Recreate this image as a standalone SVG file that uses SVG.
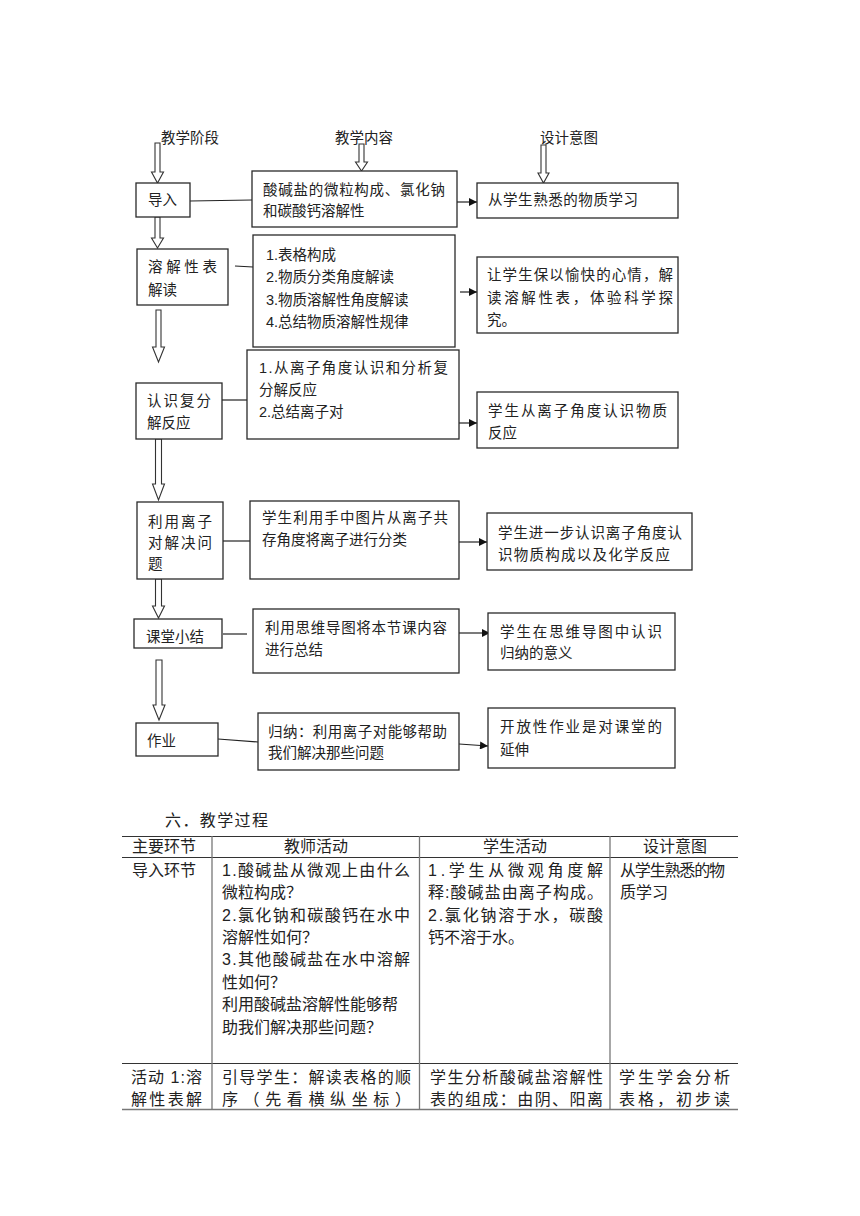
<svg xmlns="http://www.w3.org/2000/svg" width="860" height="1216" viewBox="0 0 860 1216">
<style>
  .bg{fill:#fff}
  .box{fill:#fff;stroke:#2a2a2a;stroke-width:1.3}
  .t{font-family:"Liberation Sans","Noto Sans CJK SC",sans-serif;font-size:14.5px;fill:#222}
  .tt{font-family:"Liberation Sans","Noto Sans CJK SC",sans-serif;font-size:16px;fill:#222}
  .blk{fill:#fff;stroke:#333;stroke-width:1.1}
  .ln{stroke:#222;stroke-width:1.2;fill:none}
  .grid{stroke:#333;stroke-width:1.1}
  .vgrid{stroke:#777;stroke-width:1.3}
</style>
<defs>
  <marker id="ah" viewBox="0 0 10 10" refX="10" refY="5" markerWidth="9" markerHeight="8" markerUnits="userSpaceOnUse" orient="auto">
    <path d="M0,0 L10,5 L0,10 Z" fill="#111"/>
  </marker>
</defs>
<rect class="bg" width="860" height="1216"/>

<!-- column headings -->
<g id="headings">
  <text class="t" x="161" y="143">教学阶段</text>
  <text class="t" x="335" y="143">教学内容</text>
  <text class="t" x="540" y="143">设计意图</text>
</g>

<!-- connectors -->
<g id="connectors">
  <!-- hollow block arrows -->
  <path class="blk" d="M155,143 L160,143 L160,172 L163.5,172 L157.5,183 L151.5,172 L155,172 Z"/>
  <path class="blk" d="M359,144 L364,144 L364,162 L367.5,162 L361.5,171 L355.5,162 L359,162 Z"/>
  <path class="blk" d="M541,145 L546,145 L546,173 L549,173 L543.5,183 L538,173 L541,173 Z"/>
  <path class="blk" d="M155,217 L160,217 L160,238 L163.5,238 L157.5,248 L151.5,238 L155,238 Z"/>
  <path class="blk" d="M156,310 L161,310 L161,347 L164.5,347 L158.5,362 L152.5,347 L156,347 Z"/>
  <path class="blk" d="M155.5,439 L161.5,439 L161.5,484 L164.5,484 L158.5,500 L152.5,484 L155.5,484 Z"/>
  <path class="blk" d="M155.5,579 L161.5,579 L161.5,606 L164.5,606 L158.5,618 L152.5,606 L155.5,606 Z"/>
  <path class="blk" d="M156,660 L162,660 L162,705 L165,705 L159,720 L153,705 L156,705 Z"/>
  <!-- stage to content links -->
  <line class="ln" x1="190" y1="201" x2="252" y2="200"/>
  <line class="ln" x1="235" y1="266" x2="253" y2="267"/>
  <line class="ln" x1="222" y1="400" x2="247" y2="400"/>
  <line class="ln" x1="222" y1="541" x2="250" y2="541"/>
  <line class="ln" x1="223" y1="634" x2="247" y2="634"/>
  <line class="ln" x1="218" y1="739" x2="258" y2="742"/>
  <!-- content to intent arrows -->
  <line class="ln" x1="457" y1="202" x2="477" y2="202" marker-end="url(#ah)"/>
  <line class="ln" x1="460" y1="292" x2="477" y2="292" marker-end="url(#ah)"/>
  <line class="ln" x1="459" y1="423" x2="477" y2="423" marker-end="url(#ah)"/>
  <line class="ln" x1="459" y1="542" x2="487" y2="542" marker-end="url(#ah)"/>
  <line class="ln" x1="459" y1="633" x2="490" y2="633" marker-end="url(#ah)"/>
  <line class="ln" x1="459" y1="744" x2="488" y2="746" marker-end="url(#ah)"/>
</g>

<!-- stage nodes -->
<g id="s-intro">
  <rect class="box" x="136" y="183" width="54" height="34"/>
  <text class="t" x="148" y="205">导入</text>
</g>
<g id="s-table">
  <rect class="box" x="137" y="249" width="91" height="56"/>
  <text class="t" x="148" y="272" textLength="69" lengthAdjust="spacing">溶解性表</text>
  <text class="t" x="148" y="295">解读</text>
</g>
<g id="s-reaction">
  <rect class="box" x="136" y="383" width="86" height="56"/>
  <text class="t" x="147" y="406" textLength="64" lengthAdjust="spacing">认识复分</text>
  <text class="t" x="147" y="428">解反应</text>
</g>
<g id="s-ionpair">
  <rect class="box" x="137" y="502" width="86" height="77"/>
  <text class="t" x="148" y="527" textLength="64" lengthAdjust="spacing">利用离子</text>
  <text class="t" x="148" y="548" textLength="64" lengthAdjust="spacing">对解决问</text>
  <text class="t" x="148" y="569">题</text>
</g>
<g id="s-summary">
  <rect class="box" x="134" y="619" width="88" height="29"/>
  <text class="t" x="146" y="642">课堂小结</text>
</g>
<g id="s-homework">
  <rect class="box" x="136" y="723" width="82" height="33"/>
  <text class="t" x="147" y="746">作业</text>
</g>

<!-- content nodes -->
<g id="c-intro">
  <rect class="box" x="252" y="171" width="205" height="56"/>
  <text class="t" x="263" y="195" textLength="182" lengthAdjust="spacing">酸碱盐的微粒构成、氯化钠</text>
  <text class="t" x="263" y="216">和碳酸钙溶解性</text>
</g>
<g id="c-table">
  <rect class="box" x="253" y="235" width="202" height="112"/>
  <text class="t" x="266" y="260">1.表格构成</text>
  <text class="t" x="266" y="282">2.物质分类角度解读</text>
  <text class="t" x="266" y="305">3.物质溶解性角度解读</text>
  <text class="t" x="266" y="327">4.总结物质溶解性规律</text>
</g>
<g id="c-reaction">
  <rect class="box" x="247" y="350" width="212" height="89"/>
  <text class="t" x="259" y="373" textLength="189" lengthAdjust="spacing">1.从离子角度认识和分析复</text>
  <text class="t" x="259" y="395">分解反应</text>
  <text class="t" x="259" y="417">2.总结离子对</text>
</g>
<g id="c-ionpair">
  <rect class="box" x="250" y="501" width="209" height="78"/>
  <text class="t" x="262" y="523" textLength="186" lengthAdjust="spacing">学生利用手中图片从离子共</text>
  <text class="t" x="262" y="545">存角度将离子进行分类</text>
</g>
<g id="c-summary">
  <rect class="box" x="253" y="609" width="206" height="64"/>
  <text class="t" x="265" y="633" textLength="182" lengthAdjust="spacing">利用思维导图将本节课内容</text>
  <text class="t" x="265" y="655">进行总结</text>
</g>
<g id="c-homework">
  <rect class="box" x="258" y="713" width="201" height="57"/>
  <text class="t" x="268" y="737" textLength="179" lengthAdjust="spacing">归纳：利用离子对能够帮助</text>
  <text class="t" x="268" y="758">我们解决那些问题</text>
</g>

<!-- intent nodes -->
<g id="i-intro">
  <rect class="box" x="477" y="183" width="201" height="35"/>
  <text class="t" x="488" y="205" textLength="150" lengthAdjust="spacing">从学生熟悉的物质学习</text>
</g>
<g id="i-table">
  <rect class="box" x="477" y="257" width="201" height="76"/>
  <text class="t" x="487" y="280" textLength="186" lengthAdjust="spacing">让学生保以愉快的心情，解</text>
  <text class="t" x="487" y="303" textLength="186" lengthAdjust="spacing">读溶解性表，体验科学探</text>
  <text class="t" x="487" y="325">究。</text>
</g>
<g id="i-reaction">
  <rect class="box" x="477" y="392" width="201" height="56"/>
  <text class="t" x="488" y="416" textLength="179" lengthAdjust="spacing">学生从离子角度认识物质</text>
  <text class="t" x="488" y="438">反应</text>
</g>
<g id="i-ionpair">
  <rect class="box" x="487" y="513" width="205" height="57"/>
  <text class="t" x="498" y="538" textLength="184" lengthAdjust="spacing">学生进一步认识离子角度认</text>
  <text class="t" x="498" y="560" textLength="172" lengthAdjust="spacing">识物质构成以及化学反应</text>
</g>
<g id="i-summary">
  <rect class="box" x="488" y="613" width="187" height="57"/>
  <text class="t" x="500" y="637" textLength="162" lengthAdjust="spacing">学生在思维导图中认识</text>
  <text class="t" x="500" y="658">归纳的意义</text>
</g>
<g id="i-homework">
  <rect class="box" x="488" y="708" width="187" height="60"/>
  <text class="t" x="500" y="732" textLength="162" lengthAdjust="spacing">开放性作业是对课堂的</text>
  <text class="t" x="500" y="755">延伸</text>
</g>

<!-- section title and table -->
<g id="process-table">
  <text class="tt" x="165" y="826" textLength="103" lengthAdjust="spacing">六．教学过程</text>
  <line class="grid" x1="122" y1="836.5" x2="738" y2="836.5"/>
  <line class="grid" x1="122" y1="857.5" x2="738" y2="857.5"/>
  <line class="grid" x1="122" y1="1063.5" x2="738" y2="1063.5"/>
  <line class="vgrid" x1="122" y1="1109.5" x2="738" y2="1109.5"/>
  <line class="vgrid" x1="212" y1="836" x2="212" y2="1110"/>
  <line class="vgrid" x1="419.5" y1="836" x2="419.5" y2="1110"/>
  <line class="vgrid" x1="610" y1="836" x2="610" y2="1110"/>

  <text class="tt" x="132" y="852">主要环节</text>
  <text class="tt" x="316" y="852" text-anchor="middle">教师活动</text>
  <text class="tt" x="515" y="852" text-anchor="middle">学生活动</text>
  <text class="tt" x="675" y="852" text-anchor="middle">设计意图</text>

  <text class="tt" x="132" y="876">导入环节</text>
  <text class="tt" x="222" y="876" textLength="188" lengthAdjust="spacing">1.酸碱盐从微观上由什么</text>
  <text class="tt" x="222" y="898">微粒构成？</text>
  <text class="tt" x="222" y="921" textLength="188" lengthAdjust="spacing">2.氯化钠和碳酸钙在水中</text>
  <text class="tt" x="222" y="943">溶解性如何？</text>
  <text class="tt" x="222" y="965" textLength="188" lengthAdjust="spacing">3.其他酸碱盐在水中溶解</text>
  <text class="tt" x="222" y="988">性如何？</text>
  <text class="tt" x="222" y="1010" textLength="176" lengthAdjust="spacing">利用酸碱盐溶解性能够帮</text>
  <text class="tt" x="222" y="1033">助我们解决那些问题？</text>

  <text class="tt" x="428" y="876" textLength="175" lengthAdjust="spacing">1.学生从微观角度解</text>
  <text class="tt" x="428" y="898" textLength="175" lengthAdjust="spacing">释:酸碱盐由离子构成。</text>
  <text class="tt" x="428" y="921" textLength="175" lengthAdjust="spacing">2.氯化钠溶于水，碳酸</text>
  <text class="tt" x="428" y="943">钙不溶于水。</text>

  <text class="tt" x="620" y="876" textLength="105" lengthAdjust="spacing">从学生熟悉的物</text>
  <text class="tt" x="620" y="898">质学习</text>

  <text class="tt" x="131" y="1083" textLength="71" lengthAdjust="spacing">活动 1:溶</text>
  <text class="tt" x="131" y="1105" textLength="71" lengthAdjust="spacing">解性表解</text>
  <text class="tt" x="222" y="1083" textLength="189" lengthAdjust="spacing">引导学生：解读表格的顺</text>
  <text class="tt" x="222" y="1105" textLength="189" lengthAdjust="spacing">序（先看横纵坐标）</text>
  <text class="tt" x="430" y="1083" textLength="173" lengthAdjust="spacing">学生分析酸碱盐溶解性</text>
  <text class="tt" x="430" y="1105" textLength="173" lengthAdjust="spacing">表的组成：由阴、阳离</text>
  <text class="tt" x="619" y="1083" textLength="111" lengthAdjust="spacing">学生学会分析</text>
  <text class="tt" x="619" y="1105" textLength="111" lengthAdjust="spacing">表格，初步读</text>
</g>
</svg>
